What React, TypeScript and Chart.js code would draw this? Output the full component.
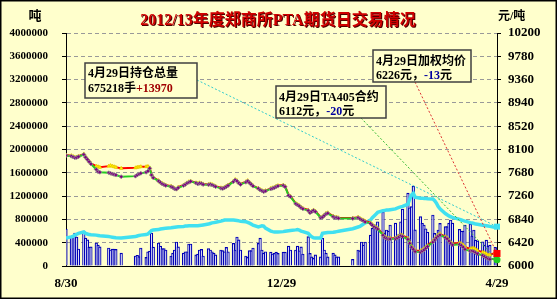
import React, { useEffect, useRef } from "react";
import { Chart, registerables } from "chart.js";

Chart.register(...registerables);

// ---------- data ----------
const START_DATE = "2013-08-30";
const END_DATE = "2014-04-29";
const HOLIDAYS: [string, string][] = [
  ["2013-09-19", "2013-09-20"],
  ["2013-10-01", "2013-10-07"],
  ["2014-01-01", "2014-01-01"],
  ["2014-01-31", "2014-02-06"],
  ["2014-04-07", "2014-04-07"],
];
const X_TICK_DATES = ["2013-08-30", "2013-12-29", "2014-04-29"];
const X_TICK_LABELS = ["8/30", "12/29", "4/29"];

const TITLE = "2012/13年度郑商所PTA期货日交易情况";
const LEFT_UNIT = "吨";
const RIGHT_UNIT = "元/吨";

// daily volume (吨)
const VOLUME = [
  635000,
  515000, 498000, 567000, 498000, 292000,
  600000, 480000, 450000, 326000, 330000,
  395000, 360000, 330000,
  309000, 275000, 290000, 290000, 285000,
  223000,
  172000, 185000, 160000, 309000,
  150000, 245000, 255000, 567000, 326000,
  395000, 340000, 300000, 300000, 275000,
  172000, 220000, 275000, 412000,
  330000,
  220000, 245000, 245000, 378000, 378000,
  190000, 205000, 275000, 285000, 172000,
  300000, 275000, 245000, 220000, 190000,
  275000, 265000, 245000, 320000, 245000,
  390000, 275000, 498000, 450000, 275000,
  172000, 150000, 265000, 265000, 309000,
  390000, 480000, 275000, 220000, 245000,
  240000, 206000, 218000, 240000, 218000,
  240000, 240000,
  343000, 275000,
  275000, 343000, 262000, 330000, 206000,
  503000, 218000, 156000, 130000, 190000,
  156000, 475000, 275000, 220000, 156000,
  220000, 190000, 156000, 156000,
  115000,
  275000, 260000, 412000, 360000, 412000,
  532000, 652000, 710000, 652000, 760000,
  932000, 566000, 618000, 600000, 704000,
  738000, 503000, 550000, 760000, 978000,
  1253000, 1000000, 1018000, 1373000, 620000,
  847000, 733000, 704000, 640000, 580000,
  876000, 560000, 475000, 618000, 733000,
  675000,
  675000, 738000, 790000, 738000,
  630000, 600000, 600000, 704000,
  721000, 515000, 618000, 446000, 430000,
  417000, 360000, 446000, 343000, 360000,
  320000, 300000,
];

// open interest (手)
const OPEN_INTEREST = [
  480000,
  500000, 510000, 530000, 545000, 560000,
  585000, 560000, 550000, 540000, 535000,
  530000, 525000, 520000,
  505000, 500000, 495000, 490000, 485000,
  480000,
  505000, 515000, 525000, 530000,
  540000, 550000, 580000, 610000, 620000,
  625000, 635000, 640000, 645000, 650000,
  655000, 660000, 665000, 670000,
  675000,
  680000, 685000, 685000, 690000, 690000,
  690000, 690000, 695000, 700000, 705000,
  720000, 730000, 740000, 745000, 750000,
  770000, 780000, 790000, 790000, 790000,
  790000, 785000, 780000, 775000, 770000,
  760000, 750000, 735000, 720000, 700000,
  670000, 680000, 690000, 685000, 650000,
  600000, 590000, 585000, 585000, 585000,
  590000, 595000,
  605000, 610000,
  620000, 625000, 615000, 600000, 590000,
  560000, 530000, 500000, 485000, 480000,
  480000, 560000, 565000, 570000, 575000,
  580000, 585000, 590000, 595000,
  640000,
  670000, 680000, 700000, 720000, 740000,
  790000, 830000, 860000, 890000, 920000,
  950000, 955000, 960000, 960000, 965000,
  980000, 995000, 1005000, 1015000, 1025000,
  1060000, 1150000, 1220000, 1250000, 1180000,
  1165000, 1165000, 1160000, 1160000, 1155000,
  1150000, 1120000, 1080000, 1020000, 980000,
  900000,
  880000, 860000, 845000, 835000,
  800000, 790000, 780000, 770000,
  745000, 740000, 730000, 720000, 715000,
  700000, 695000, 690000, 685000, 680000,
  661248, 675218,
];

// weighted average price (元/吨)
const PRICE_AVG = [
  8000,
  7990, 7975, 7960, 7965, 7980,
  8020, 7970, 7930, 7890, 7850,
  7800, 7790, 7780,
  7800, 7810, 7800, 7790, 7780,
  7760,
  7770, 7780, 7785, 7790,
  7790, 7795, 7770, 7650, 7600,
  7540, 7510, 7490, 7470, 7460,
  7440, 7420, 7400, 7390,
  7420,
  7460, 7480, 7500, 7520, 7530,
  7500, 7490, 7500, 7490, 7480,
  7470, 7480, 7470, 7450, 7440,
  7410, 7400, 7420, 7440, 7460,
  7530, 7560, 7540, 7500, 7480,
  7520, 7540, 7510, 7480, 7450,
  7400, 7380, 7360, 7350, 7360,
  7400, 7410, 7420, 7440, 7450,
  7460, 7440,
  7280, 7260,
  7130, 7110, 7090, 7060, 7040,
  7010, 6970, 6990, 7010, 6990,
  6880, 6890, 6920, 6950, 6960,
  6900, 6880, 6880, 6870,
  6865,
  6880, 6860, 6840, 6830, 6810,
  6780, 6750, 6720, 6700, 6680,
  6570, 6530, 6510, 6500, 6500,
  6505, 6520, 6540, 6560, 6550,
  6500, 6430, 6360, 6320, 6280,
  6270, 6290, 6310, 6340, 6370,
  6450, 6490, 6530, 6560, 6580,
  6530,
  6510, 6470, 6430, 6400,
  6420, 6400, 6380, 6340,
  6310, 6320, 6320, 6300, 6280,
  6250, 6240, 6220, 6200, 6200,
  6239, 6226,
];

// TA405 contract price (元/吨)
const PRICE_TA405 = [
  7990,
  7980, 7965, 7950, 7955, 7970,
  8010, 7960, 7920, 7880, 7840,
  7740, 7700, 7690,
  7680, 7670, 7660, 7650, 7640,
  7610,
  7620, 7640, 7660, 7670,
  7690, 7710, 7760, 7640, 7590,
  7530, 7505, 7480, 7465, 7450,
  7430, 7415, 7390, 7385,
  7410,
  7450, 7470, 7495, 7510, 7525,
  7495, 7480, 7490, 7485, 7470,
  7465, 7470, 7460, 7445, 7430,
  7400, 7395, 7410, 7430, 7450,
  7520, 7550, 7530, 7495, 7470,
  7510, 7530, 7500, 7470, 7440,
  7395, 7370, 7355, 7340, 7350,
  7390, 7400, 7410, 7430, 7440,
  7450, 7430,
  7270, 7250,
  7120, 7100, 7080, 7050, 7030,
  7000, 6960, 6980, 7000, 6980,
  6870, 6880, 6910, 6940, 6950,
  6890, 6870, 6870, 6860,
  6855,
  6870, 6850, 6830, 6815, 6795,
  6765, 6735, 6705, 6685, 6665,
  6555, 6515, 6495, 6485, 6485,
  6490, 6505, 6525, 6545, 6530,
  6480, 6410, 6340, 6300, 6260,
  6250, 6270, 6290, 6320, 6350,
  6430, 6470, 6510, 6540, 6560,
  6510,
  6490, 6450, 6410, 6380,
  6390, 6370, 6340, 6300,
  6270, 6270, 6260, 6240, 6220,
  6190, 6170, 6150, 6130, 6120,
  6132, 6112,
];

const VOL_AXIS = { min: 0, max: 4000000, step: 400000 };
const PRICE_AXIS = { min: 6000, max: 10200, step: 420 };

// ---------- helpers ----------
const DAY_MS = 86400000;
const utc = (s: string) => {
  const [y, m, d] = s.split("-").map(Number);
  return Date.UTC(y, m - 1, d);
};
const dayOffset = (s: string) => Math.round((utc(s) - utc(START_DATE)) / DAY_MS);

function tradingDayOffsets(): number[] {
  const out: number[] = [];
  const last = dayOffset(END_DATE);
  for (let d = 0; d <= last; d++) {
    const t = utc(START_DATE) + d * DAY_MS;
    const wd = new Date(t).getUTCDay();
    if (wd === 0 || wd === 6) continue;
    if (HOLIDAYS.some(([a, b]) => t >= utc(a) && t <= utc(b))) continue;
    out.push(d);
  }
  return out;
}

const SERIF = '"Liberation Serif", "Times New Roman", "Noto Sans CJK SC", serif';
const BG = "#FFFFCC";

const signed = (v: number) => (v > 0 ? "+" + v : String(v));

export default function App() {
  const ref = useRef<HTMLCanvasElement | null>(null);

  useEffect(() => {
    document.body.style.margin = "0";
    const canvas = ref.current;
    if (!canvas) return;

    const days = tradingDayOffsets();
    const n = Math.min(days.length, VOLUME.length, OPEN_INTEREST.length, PRICE_AVG.length, PRICE_TA405.length);
    const pts = (arr: number[]) => days.slice(0, n).map((d, i) => ({ x: d, y: arr[i] }));
    const xTickDays = X_TICK_DATES.map(dayOffset);
    const last = n - 1;

    const endM = Number(END_DATE.split("-")[1]);
    const endD = Number(END_DATE.split("-")[2]);
    const dateText = `${endM}月${endD}日`;

    const decor = {
      id: "decor",
      beforeDraw(chart: any) {
        const ctx = chart.ctx;
        ctx.save();
        ctx.fillStyle = BG;
        ctx.fillRect(0, 0, chart.width, chart.height);
        ctx.restore();
      },
      afterDraw(chart: any) {
        const ctx = chart.ctx;
        ctx.save();
        // frame
        ctx.fillStyle = "#FFFFFF";
        ctx.fillRect(0, 299, chart.width, chart.height - 299);
        ctx.fillRect(557, 0, chart.width - 557, chart.height);
        ctx.strokeStyle = "#000";
        ctx.lineWidth = 1.5;
        ctx.strokeRect(0.75, 0.75, 555.5, 297.5);

        // title
        ctx.font = `bold 16px ${SERIF}`;
        ctx.textAlign = "center";
        ctx.textBaseline = "alphabetic";
        ctx.fillStyle = "#500000";
        ctx.fillText(TITLE, 279, 26);
        ctx.fillStyle = "#D00000";
        ctx.fillText(TITLE, 278, 25);

        // units
        ctx.fillStyle = "#000";
        ctx.font = `bold 13px ${SERIF}`;
        ctx.fillText(LEFT_UNIT, 35, 20);
        ctx.font = `bold 12px ${SERIF}`;
        ctx.textAlign = "left";
        ctx.fillText(RIGHT_UNIT, 498, 20);

        // leader lines to last points
        const endPt = (i: number) => {
          const el = chart.getDatasetMeta(i).data[last];
          return { x: el.x, y: el.y };
        };
        const oiEnd = endPt(1);
        const avgEnd = endPt(2);
        const taEnd = endPt(3);
        const leader = (x0: number, y0: number, p: any, color: string) => {
          ctx.save();
          ctx.strokeStyle = color;
          ctx.lineWidth = 1;
          ctx.setLineDash([2, 2]);
          ctx.beginPath();
          ctx.moveTo(x0, y0);
          ctx.lineTo(p.x, p.y);
          ctx.stroke();
          ctx.restore();
        };
        leader(197, 80, oiEnd, "#33CCCC");
        leader(361, 118, taEnd, "#33BB33");
        leader(415, 82, avgEnd, "#DD3333");

        // end markers
        ctx.fillStyle = "#40E0F0";
        ctx.fillRect(oiEnd.x - 3, oiEnd.y - 3, 6, 6);
        ctx.fillStyle = "#22CC22";
        ctx.beginPath();
        ctx.arc(taEnd.x, taEnd.y, 3.5, 0, Math.PI * 2);
        ctx.fill();
        ctx.fillStyle = "#FF0000";
        ctx.fillRect(avgEnd.x - 3.5, avgEnd.y - 3.5, 7, 7);

        // callout boxes
        const box = (x: number, y: number, w: number, h: number, lines: { t: string; c: string }[][], base: number[]) => {
          ctx.save();
          ctx.fillStyle = BG;
          ctx.fillRect(x, y, w, h);
          ctx.strokeStyle = "#404040";
          ctx.lineWidth = 1.5;
          ctx.strokeRect(x, y, w, h);
          ctx.font = `bold 12px ${SERIF}`;
          ctx.textAlign = "left";
          lines.forEach((segs, li) => {
            let cx = x + 3;
            segs.forEach((s) => {
              ctx.fillStyle = s.c;
              ctx.fillText(s.t, cx, base[li]);
              cx += ctx.measureText(s.t).width;
            });
          });
          ctx.restore();
        };
        const oiLast = OPEN_INTEREST[last];
        const oiDiff = OPEN_INTEREST[last] - OPEN_INTEREST[last - 1];
        const taLast = PRICE_TA405[last];
        const taDiff = PRICE_TA405[last] - PRICE_TA405[last - 1];
        const avgLast = PRICE_AVG[last];
        const avgDiff = PRICE_AVG[last] - PRICE_AVG[last - 1];

        box(85, 63, 112, 35, [
          [{ t: `${dateText}持仓总量`, c: "#000" }],
          [{ t: `${oiLast}手`, c: "#000" }, { t: signed(oiDiff), c: "#A00000" }],
        ], [77, 92]);
        box(276, 86, 110, 32, [
          [{ t: `${dateText}TA405合约`, c: "#000" }],
          [{ t: `${taLast}元，`, c: "#000" }, { t: signed(taDiff), c: "#0000A0" }, { t: "元", c: "#000" }],
        ], [101, 115]);
        box(373, 50, 98, 32, [
          [{ t: `${dateText}加权均价`, c: "#000" }],
          [{ t: `${avgLast}元，`, c: "#000" }, { t: signed(avgDiff), c: "#0000A0" }, { t: "元", c: "#000" }],
        ], [65, 79]);

        ctx.restore();
      },
    };

    const chart = new Chart(canvas, {
      type: "bar",
      data: {
        datasets: [
          {
            type: "bar",
            label: "成交量",
            data: pts(VOLUME),
            yAxisID: "yL",
            backgroundColor: "#F4F4FF",
            borderColor: "#0000B4",
            borderWidth: 1.2,
            borderSkipped: "bottom",
            barThickness: 2.6,
            grouped: false,
            order: 4,
          } as any,
          {
            type: "line",
            label: "持仓量",
            data: pts(OPEN_INTEREST),
            yAxisID: "yL",
            borderColor: "#40E0F0",
            borderWidth: 3.5,
            pointRadius: 0,
            tension: 0,
            order: 3,
          },
          {
            type: "line",
            label: "加权均价",
            data: pts(PRICE_AVG),
            yAxisID: "yR",
            borderColor: "#FF0000",
            borderWidth: 2,
            pointStyle: "triangle",
            pointRadius: 2,
            pointBackgroundColor: "#FFFF00",
            pointBorderColor: "#E8C800",
            pointBorderWidth: 0.8,
            tension: 0,
            order: 2,
          },
          {
            type: "line",
            label: "TA405",
            data: pts(PRICE_TA405),
            yAxisID: "yR",
            borderColor: "#22CC22",
            borderWidth: 2,
            pointStyle: "rectRot",
            pointRadius: 2,
            pointBackgroundColor: "#800080",
            pointBorderColor: "#909090",
            pointBorderWidth: 0.8,
            tension: 0,
            order: 1,
          },
        ],
      },
      options: {
        responsive: false,
        animation: false,
        devicePixelRatio: 1,
        layout: { padding: { top: 33, left: 0, right: 0, bottom: 0 } },
        plugins: { legend: { display: false }, tooltip: { enabled: false }, title: { display: false } },
        scales: {
          x: {
            type: "linear",
            min: xTickDays[0],
            max: xTickDays[xTickDays.length - 1],
            offset: false,
            afterBuildTicks: (s: any) => {
              s.ticks = xTickDays.map((v) => ({ value: v }));
            },
            afterFit: (s: any) => {
              s.height = 35;
            },
            ticks: {
              autoSkip: false,
              maxRotation: 0,
              padding: 10,
              color: "#000",
              font: { family: SERIF, weight: "bold", size: 13 },
              callback: (_v: any, i: number) => X_TICK_LABELS[i],
            },
            grid: { display: false, drawTicks: false },
            border: { display: true, color: "#000", width: 1 },
          },
          yL: {
            type: "linear",
            position: "left",
            min: VOL_AXIS.min,
            max: VOL_AXIS.max,
            afterFit: (s: any) => {
              s.width = 66;
            },
            ticks: {
              stepSize: VOL_AXIS.step,
              padding: 14,
              color: "#000",
              font: { family: SERIF, weight: "bold", size: 11 },
              callback: (v: any) => String(v),
            },
            grid: {
              color: "#999999",
              lineWidth: 1,
              drawTicks: true,
              tickLength: 4,
              tickColor: "#000",
            },
            border: { display: true, color: "#000", width: 1, dash: [4, 3] },
          },
          yR: {
            type: "linear",
            position: "right",
            min: PRICE_AXIS.min,
            max: PRICE_AXIS.max,
            afterFit: (s: any) => {
              s.width = 61;
            },
            ticks: {
              stepSize: PRICE_AXIS.step,
              padding: 7,
              color: "#000",
              font: { family: SERIF, weight: "bold", size: 13 },
              callback: (v: any) => String(v),
            },
            grid: {
              drawOnChartArea: false,
              drawTicks: true,
              tickLength: 4,
              tickColor: "#000",
            },
            border: { display: true, color: "#000", width: 1 },
          },
        },
      } as any,
      plugins: [decor],
    });

    return () => chart.destroy();
  }, []);

  return (
    <div style={{ width: 558, height: 301, margin: 0, padding: 0 }}>
      <canvas ref={ref} width={558} height={301} style={{ display: "block" }} />
    </div>
  );
}
